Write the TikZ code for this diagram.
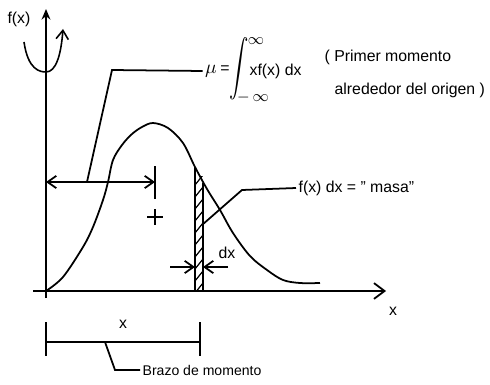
\documentclass[tikz,border=0pt]{standalone}
\usepackage{amsmath,amssymb}
\usepackage{fontspec}
\setmainfont{Liberation Sans}
\usepackage{tikz}
\usetikzlibrary{arrows.meta}

\begin{document}
\begin{tikzpicture}[x=0.02cm,y=-0.02cm,line width=1pt,
  lbl/.style={font=\fontsize{9}{10}\selectfont,inner sep=1pt},
  arm/.style={-{Straight Barb[length=5pt,width=7pt]}}]
\useasboundingbox (0,0) rectangle (490,385);
\draw[-{Stealth[length=6pt,width=5pt]}] (46,298) -- (46,9);
\draw[-{Straight Barb[length=6pt,width=9pt]}] (33,291) -- (386,291);
\node[lbl] (fx) at (19,19) {f(x)};
\node[lbl] (xlab) at (393,311) {x};
\draw[-{Straight Barb[length=5pt,width=7pt]},line width=0.9pt] (24,42) .. controls (28,70) and (40,72) .. (46,72) .. controls (56,72) and (61,55) .. (63,29);
\draw plot[smooth,tension=0.55] coordinates {(46,291) (63,277) (83,247) (93,227) (103,200) (108,182) (113,160) (122,145) (132,134) (142,127) (153,123) (168,128) (183,143) (195,167) (207,189) (220,210) (233,233) (250,256) (267,270) (283,280) (300,283) (320,283)};
% strip
\draw (195,167) -- (195,291);
\draw (203,183) -- (203,291);
\begin{scope}[line width=0.7pt]
\clip (195,176) rectangle (203,291);
\foreach \y in {180,192,...,300} \draw (195,\y+5) -- (203,\y-5);
\end{scope}
\draw[arm] (170,267) -- (195,267);
\draw[arm] (228,267) -- (203,267);
\node[lbl] (dx) at (227,253) {dx};
% moment arm
\coordinate (arm) at (87,182);
\draw[arm] (arm) -- (46,182);
\draw[arm] (arm) -- (155,182);
\draw (155,166) -- (155,199);
\draw (147,217) -- (163,217) (155,209) -- (155,225);
% first moment
\node[lbl,font=\fontsize{11}{12}\selectfont] (mu) at (211,71) {$\mu$};
\node[lbl] (eq) at (225,70) {=};
\node[inner sep=0pt] (int) at (239,69) {\scalebox{1.1}[1.6]{$\displaystyle\int$}};
\node[lbl] (upper) at (256,41) {$\infty$};
\node[lbl] (lower) at (253,98) {$-\,\infty$};
\node[lbl,anchor=west] (integrand) at (247,71) {xf(x) dx};
\draw (mu.west) -- (112,70) -- (arm);
\node[lbl,anchor=west] (prim) at (322,57) {( Primer momento};
\node[lbl,anchor=west] (orig) at (332,90) {alrededor del origen )};
% mass element
\node[lbl,anchor=west] (masa) at (296,188) {f(x) dx = " masa"};
\coordinate (strip) at (202,225);
\draw (masa.west) -- (242,190) -- (strip);
% brazo
\draw (46,322) -- (46,356) (200,322) -- (200,356) (46,342) -- (200,342);
\node[lbl] (xb) at (123,324) {x};
\node[lbl,anchor=west,font=\fontsize{8}{9}\selectfont] (brazo) at (140,370) {Brazo de momento};
\draw (105,342) -- (115,370) -- (brazo.west);
\end{tikzpicture}
\end{document}
